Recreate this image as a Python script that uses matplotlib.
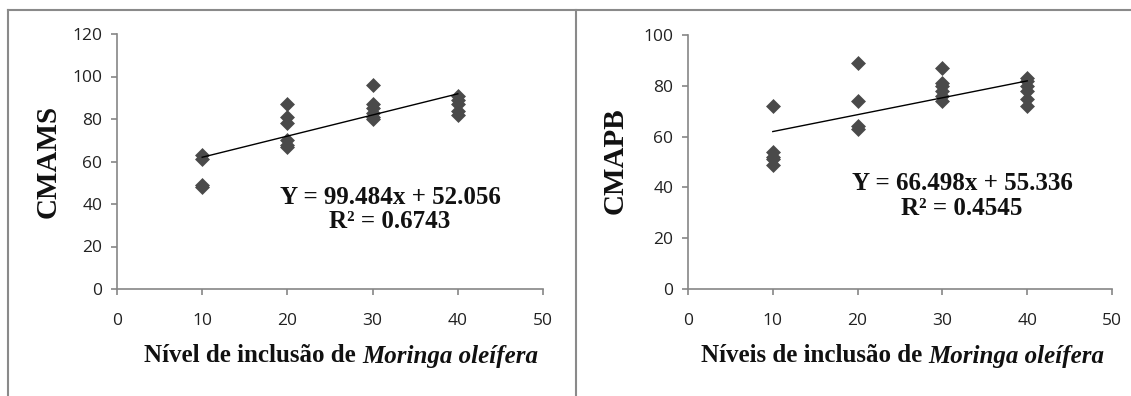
import matplotlib
matplotlib.use("Agg")
import matplotlib.pyplot as plt
from matplotlib.lines import Line2D
import numpy as np

# ---- data ----
x_levels_left = [10, 10, 10, 10,
                 20, 20, 20, 20, 20, 20,
                 30, 30, 30, 30, 30, 30,
                 40, 40, 40, 40, 40]
cmams = [63, 61, 49, 48,
         87, 81, 78, 70, 68, 67,
         96, 87, 85, 83, 81, 80,
         91, 89, 87, 84, 82]

x_levels_right = [10, 10, 10, 10, 10,
                  20, 20, 20, 20,
                  30, 30, 30, 30, 30, 30,
                  40, 40, 40, 40, 40, 40]
cmapb = [72, 54, 52, 51, 49,
         89, 74, 64, 63,
         87, 81, 80, 78, 76, 74,
         83, 82, 80, 78, 75, 72]

# trend line coefficients (x expressed as fraction of inclusion)
fit_left = (99.484, 52.056)
fit_right = (66.498, 55.336)
eq_left = ["Y = 99.484x + 52.056", "R² = 0.6743"]
eq_right = ["Y = 66.498x + 55.336", "R² = 0.4545"]

xticks = [0, 10, 20, 30, 40, 50]
yticks_left = [0, 20, 40, 60, 80, 100, 120]
yticks_right = [0, 20, 40, 60, 80, 100]

ylabel_left = "CMAMS"
ylabel_right = "CMAPB"
xlabel_left_plain = "Nível de inclusão de "
xlabel_right_plain = "Níveis de inclusão de "
xlabel_italic = "Moringa oleífera"

W, H = 1131, 396
fig = plt.figure(figsize=(W / 100, H / 100), dpi=100)
fig.patch.set_facecolor("white")

gray = "#868686"
marker_color = "#4a4a4a"
tick_font = "Open Sans"
serif = "Liberation Serif"
txt = "#111111"


def px_rect(x0, x1, ytop, ybot):
    return [x0 / W, (H - ybot) / H, (x1 - x0) / W, (ybot - ytop) / H]


def setup(ax, xs, ys, fit, yticks, ylim, eq, eq_x, eq_y1, eq_y2, ylabel, ylabel_x):
    ax.scatter(xs, ys, marker="D", s=58, color=marker_color, zorder=3, linewidths=0)
    xl = np.array([10, 40])
    ax.plot(xl, fit[0] * xl / 100 + fit[1], color="black", lw=1.0, zorder=4)
    ax.set_xlim(0, 50)
    ax.set_ylim(*ylim)
    ax.set_xticks(xticks)
    ax.set_yticks(yticks)
    for s in ["top", "right"]:
        ax.spines[s].set_visible(False)
    for s in ["left", "bottom"]:
        ax.spines[s].set_color(gray)
        ax.spines[s].set_linewidth(1.2)
    ax.tick_params(direction="out", length=4.5, width=1.2, color=gray,
                   labelsize=12.5, labelcolor="#222222")
    ax.yaxis.set_tick_params(pad=6)
    ax.xaxis.set_tick_params(pad=13)
    for lab in ax.get_xticklabels() + ax.get_yticklabels():
        lab.set_fontfamily(tick_font)
    fig.text(eq_x / W, 1 - eq_y1 / H, eq[0], ha="center", va="center",
             fontfamily=serif, fontweight="bold", fontsize=18, color=txt)
    fig.text(eq_x / W, 1 - eq_y2 / H, eq[1], ha="center", va="center",
             fontfamily=serif, fontweight="bold", fontsize=18, color=txt)
    fig.text(ylabel_x / W, 1 - 161 / H, ylabel, rotation=90, ha="center", va="center",
             fontfamily=serif, fontweight="bold", fontsize=21, color=txt)


axL = fig.add_axes(px_rect(117, 543, 34, 289))
setup(axL, x_levels_left, cmams, fit_left, yticks_left, (0, 120), eq_left,
      390, 198, 222, ylabel_left, 48)
axR = fig.add_axes(px_rect(688, 1112, 35, 289))
setup(axR, x_levels_right, cmapb, fit_right, yticks_right, (0, 100), eq_right,
      962, 184, 208, ylabel_right, 615)


def mixed_label(xc, yc, plain, italic):
    fs = 18
    t1 = fig.text(0, yc / H, plain, fontfamily=serif, fontweight="bold", fontsize=fs,
                  ha="left", va="center", color=txt)
    t2 = fig.text(0, yc / H, italic, fontfamily=serif, fontweight="bold", fontstyle="italic",
                  fontsize=fs, ha="left", va="center", color=txt)
    r = fig.canvas.get_renderer()
    w1 = t1.get_window_extent(r).width
    w2 = t2.get_window_extent(r).width
    x0 = xc - (w1 + w2) / 2
    t1.set_x(x0 / W)
    t2.set_x((x0 + w1) / W)


fig.canvas.draw()
mixed_label(341, H - 356, xlabel_left_plain, xlabel_italic)
mixed_label(903, H - 356, xlabel_right_plain, xlabel_italic)

# frame lines
border = "#8a8a8a"
fig.add_artist(Line2D([8 / W, 1.0], [1 - 9.5 / H, 1 - 9.5 / H], transform=fig.transFigure,
                      color=border, lw=1.5))
fig.add_artist(Line2D([8 / W, 8 / W], [0, 1 - 9.5 / H], transform=fig.transFigure,
                      color=border, lw=1.5))
fig.add_artist(Line2D([576 / W, 576 / W], [0, 1 - 9.5 / H], transform=fig.transFigure,
                      color=border, lw=1.5))

fig.savefig("out.png", dpi=100, facecolor="white")
